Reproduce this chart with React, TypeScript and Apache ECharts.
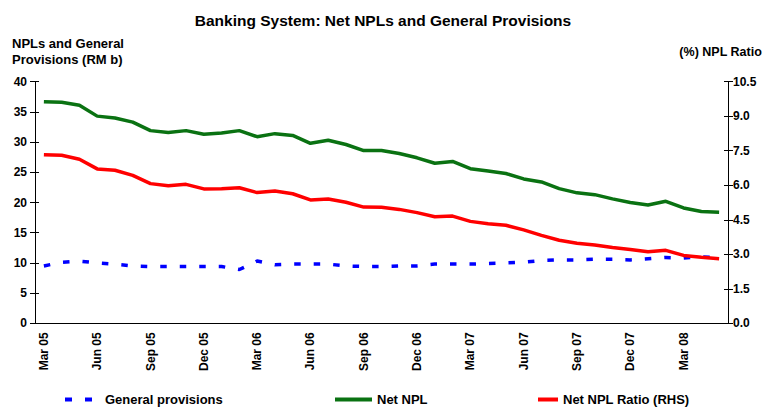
import React, { useEffect, useRef } from "react";
import * as echarts from "echarts";

const months: string[] = [
  "Mar 05", "Apr 05", "May 05", "Jun 05", "Jul 05", "Aug 05", "Sep 05", "Oct 05", "Nov 05", "Dec 05",
  "Jan 06", "Feb 06", "Mar 06", "Apr 06", "May 06", "Jun 06", "Jul 06", "Aug 06", "Sep 06", "Oct 06",
  "Nov 06", "Dec 06", "Jan 07", "Feb 07", "Mar 07", "Apr 07", "May 07", "Jun 07", "Jul 07", "Aug 07",
  "Sep 07", "Oct 07", "Nov 07", "Dec 07", "Jan 08", "Feb 08", "Mar 08", "Apr 08", "May 08",
];

const generalProvisions: number[] = [
  9.5, 10.1, 10.3, 10.0, 9.8, 9.5, 9.4, 9.4, 9.4, 9.4,
  9.4, 8.9, 10.3, 9.7, 9.8, 9.8, 9.8, 9.5, 9.4, 9.4,
  9.5, 9.5, 9.8, 9.8, 9.8, 9.9, 10.0, 10.1, 10.4, 10.5,
  10.5, 10.6, 10.6, 10.5, 10.7, 10.9, 10.8, 11.0, 10.9,
];

const netNPL: number[] = [
  36.7, 36.6, 36.1, 34.3, 34.0, 33.3, 31.9, 31.6, 31.9, 31.3,
  31.5, 31.9, 30.9, 31.4, 31.1, 29.8, 30.3, 29.6, 28.6, 28.6,
  28.1, 27.4, 26.5, 26.8, 25.6, 25.2, 24.8, 23.9, 23.4, 22.3,
  21.6, 21.3, 20.6, 20.0, 19.6, 20.2, 19.1, 18.5, 18.4,
];

const netNPLRatio: number[] = [
  7.33, 7.30, 7.13, 6.71, 6.65, 6.43, 6.07, 5.98, 6.04, 5.84,
  5.85, 5.89, 5.68, 5.75, 5.63, 5.36, 5.40, 5.26, 5.05, 5.04,
  4.95, 4.81, 4.63, 4.66, 4.43, 4.33, 4.26, 4.06, 3.82, 3.61,
  3.48, 3.40, 3.29, 3.21, 3.11, 3.17, 2.95, 2.87, 2.81,
];

const leftTicks = { min: 0, max: 40, interval: 5 };
const rightTicks = { min: 0, max: 10.5, interval: 1.5 };

const FONT = "'Liberation Sans', Arial, Helvetica, sans-serif";
const BLUE = "#0000ff";
const GREEN = "#0a7212";
const RED = "#ff0000";
const DASH = [6.5, 13];

export default function App() {
  const ref = useRef<HTMLDivElement>(null);

  useEffect(() => {
    if (!ref.current) return;
    const chart = echarts.init(ref.current, undefined, { renderer: "svg" });

    const labelStyle = { color: "#000", fontWeight: "bold" as const, fontSize: 12, fontFamily: FONT };
    const legendText = { color: "#000", fontWeight: "bold" as const, fontSize: 13, fontFamily: FONT };
    const hiddenSymbol = { color: "transparent", borderWidth: 0, opacity: 0 };

    const option: any = {
      animation: false,
      backgroundColor: "#fff",
      title: {
        text: "Banking System: Net NPLs and General Provisions",
        left: "center",
        top: 7,
        textStyle: { color: "#000", fontWeight: "bold", fontSize: 15.5, fontFamily: FONT },
      },
      graphic: [
        {
          type: "text",
          left: 12,
          top: 36,
          style: {
            text: "NPLs and General\nProvisions (RM b)",
            fill: "#000",
            font: `bold 13px ${FONT}`,
            lineHeight: 15.5,
          },
        },
        {
          type: "text",
          right: 4,
          top: 45,
          style: {
            text: "(%) NPL Ratio",
            fill: "#000",
            font: `bold 12.5px ${FONT}`,
          },
        },
      ],
      legend: [
        {
          data: ["General provisions"],
          left: 65,
          top: 393,
          padding: 0,
          icon: "path://M0,0H7V4H0Z M20,0H27V4H20Z",
          symbolKeepAspect: true,
          itemWidth: 27,
          itemHeight: 14,
          selectedMode: false,
          textStyle: { ...legendText, padding: [0, 0, 0, 8] },
          itemStyle: { color: BLUE, borderWidth: 0, opacity: 1 },
        },
        {
          data: ["Net NPL"],
          left: 333,
          top: 393,
          padding: 0,
          itemWidth: 37,
          itemHeight: 14,
          selectedMode: false,
          textStyle: legendText,
          itemStyle: hiddenSymbol,
          lineStyle: { width: 4, color: GREEN },
        },
        {
          data: ["Net NPL Ratio (RHS)"],
          left: 536,
          top: 393,
          padding: 0,
          itemWidth: 20,
          itemHeight: 14,
          selectedMode: false,
          textStyle: legendText,
          itemStyle: hiddenSymbol,
          lineStyle: { width: 4, color: RED },
        },
      ],
      grid: { left: 35, right: 38, top: 81.7, bottom: 90.7, containLabel: false },
      xAxis: {
        type: "category",
        data: months,
        boundaryGap: true,
        axisLine: { lineStyle: { color: "#000", width: 1 } },
        axisTick: { interval: 2, length: 5, lineStyle: { color: "#000" } },
        axisLabel: { ...labelStyle, interval: 2, rotate: 90, margin: 9 },
        splitLine: { show: false },
      },
      yAxis: [
        {
          type: "value",
          position: "left",
          ...leftTicks,
          axisLine: { show: true, lineStyle: { color: "#000", width: 1 } },
          axisTick: { show: true, length: 5, lineStyle: { color: "#000" } },
          axisLabel: { ...labelStyle, margin: 8 },
          splitLine: { show: false },
        },
        {
          type: "value",
          position: "right",
          ...rightTicks,
          axisLine: { show: true, lineStyle: { color: "#000", width: 1 } },
          axisTick: { show: true, length: 5, lineStyle: { color: "#000" } },
          axisLabel: { ...labelStyle, margin: 5, formatter: (v: number) => v.toFixed(1) },
          splitLine: { show: false },
        },
        {
          type: "value",
          position: "left",
          ...leftTicks,
          axisLine: { show: false },
          axisTick: { show: true, inside: true, length: 4, lineStyle: { color: "#000" } },
          axisLabel: { show: false },
          splitLine: { show: false },
        },
        {
          type: "value",
          position: "right",
          ...rightTicks,
          axisLine: { show: false },
          axisTick: { show: true, inside: true, length: 4, lineStyle: { color: "#000" } },
          axisLabel: { show: false },
          splitLine: { show: false },
        },
      ],
      series: [
        {
          name: "General provisions",
          type: "line",
          yAxisIndex: 0,
          data: generalProvisions,
          symbol: "none",
          color: BLUE,
          lineStyle: { color: BLUE, width: 3.5, type: DASH, cap: "butt" },
        },
        {
          name: "Net NPL",
          type: "line",
          yAxisIndex: 0,
          data: netNPL,
          symbol: "none",
          color: GREEN,
          lineStyle: { color: GREEN, width: 3.5 },
        },
        {
          name: "Net NPL Ratio (RHS)",
          type: "line",
          yAxisIndex: 1,
          data: netNPLRatio,
          symbol: "none",
          color: RED,
          lineStyle: { color: RED, width: 3.5 },
        },
      ],
    };

    chart.setOption(option);
    return () => chart.dispose();
  }, []);

  return (
    <div
      ref={ref}
      style={{ position: "fixed", left: 0, top: 0, width: 766, height: 414, background: "#fff" }}
    />
  );
}
